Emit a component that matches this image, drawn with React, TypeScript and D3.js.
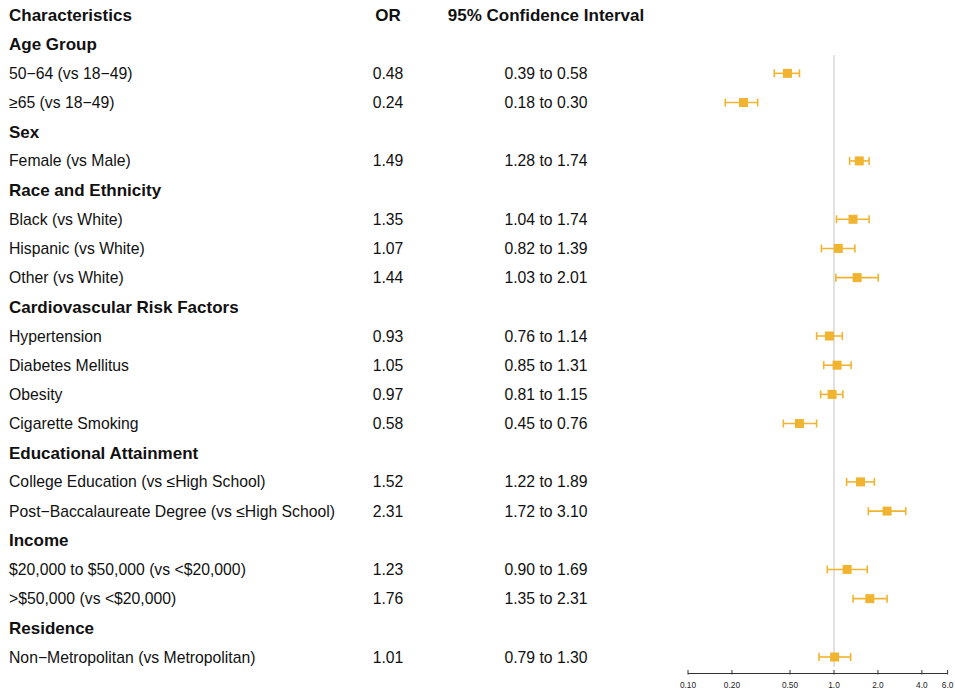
import React from "react";
import * as d3 from "d3";

const labels = [
  "Characteristics",
  "Age Group",
  "50−64 (vs 18−49)",
  "≥65 (vs 18−49)",
  "Sex",
  "Female (vs Male)",
  "Race and Ethnicity",
  "Black (vs White)",
  "Hispanic (vs White)",
  "Other (vs White)",
  "Cardiovascular Risk Factors",
  "Hypertension",
  "Diabetes Mellitus",
  "Obesity",
  "Cigarette Smoking",
  "Educational Attainment",
  "College Education (vs ≤High School)",
  "Post−Baccalaureate Degree (vs ≤High School)",
  "Income",
  "$20,000 to $50,000 (vs <$20,000)",
  ">$50,000 (vs <$20,000)",
  "Residence",
  "Non−Metropolitan (vs Metropolitan)",
];
const isHeader = [1, 1, 0, 0, 1, 0, 1, 0, 0, 0, 1, 0, 0, 0, 0, 1, 0, 0, 1, 0, 0, 1, 0];
const orValues: (number | null)[] = [null, null, 0.48, 0.24, null, 1.49, null, 1.35, 1.07, 1.44, null, 0.93, 1.05, 0.97, 0.58, null, 1.52, 2.31, null, 1.23, 1.76, null, 1.01];
const ciLow: (number | null)[] = [null, null, 0.39, 0.18, null, 1.28, null, 1.04, 0.82, 1.03, null, 0.76, 0.85, 0.81, 0.45, null, 1.22, 1.72, null, 0.9, 1.35, null, 0.79];
const ciHigh: (number | null)[] = [null, null, 0.58, 0.3, null, 1.74, null, 1.74, 1.39, 2.01, null, 1.14, 1.31, 1.15, 0.76, null, 1.89, 3.1, null, 1.69, 2.31, null, 1.3];
const orHeader = "OR";
const ciHeader = "95% Confidence Interval";
const tickValues = [0.1, 0.2, 0.5, 1.0, 2.0, 4.0, 6.0];
const tickLabels = ["0.10", "0.20", "0.50", "1.0", "2.0", "4.0", "6.0"];

const W = 955;
const H = 694;
const font = "'Liberation Sans', Arial, Helvetica, sans-serif";
const gold = "#F0B430";
const headSize = 17;
const bodySize = 15.75;

export default function App() {
  const x = d3.scaleLog().domain([0.1, 6]).range([688, 947.6]);
  const y = d3.scaleLinear().domain([0, 22]).range([15, 657]);
  const axisY = 673.5;

  return (
    <svg width={W} height={H} style={{ position: "absolute", left: 0, top: 0, background: "#fff" }}>
      <line x1={x(1)} x2={x(1)} y1={55} y2={667} stroke="#cfcfcf" strokeWidth={1.2} />
      {labels.map((lab, i) => (
        <text
          key={"l" + i}
          x={9}
          y={y(i)}
          dy="0.35em"
          fontFamily={font}
          fontSize={isHeader[i] ? headSize : bodySize}
          fontWeight={isHeader[i] ? "bold" : "normal"}
          fill="#111"
        >
          {lab}
        </text>
      ))}
      <text x={388} y={y(0)} dy="0.35em" textAnchor="middle" fontFamily={font} fontSize={headSize} fontWeight="bold" fill="#111">
        {orHeader}
      </text>
      <text x={546} y={y(0)} dy="0.35em" textAnchor="middle" fontFamily={font} fontSize={headSize} fontWeight="bold" fill="#111">
        {ciHeader}
      </text>
      {orValues.map((v, i) =>
        v == null ? null : (
          <g key={"v" + i}>
            <text x={388} y={y(i)} dy="0.35em" textAnchor="middle" fontFamily={font} fontSize={bodySize} fill="#111">
              {v.toFixed(2)}
            </text>
            <text x={546} y={y(i)} dy="0.35em" textAnchor="middle" fontFamily={font} fontSize={bodySize} fill="#111">
              {`${(ciLow[i] as number).toFixed(2)} to ${(ciHigh[i] as number).toFixed(2)}`}
            </text>
            <line x1={x(ciLow[i] as number)} x2={x(ciHigh[i] as number)} y1={y(i)} y2={y(i)} stroke={gold} strokeWidth={1.6} />
            <line x1={x(ciLow[i] as number)} x2={x(ciLow[i] as number)} y1={y(i) - 4} y2={y(i) + 4} stroke={gold} strokeWidth={1.6} />
            <line x1={x(ciHigh[i] as number)} x2={x(ciHigh[i] as number)} y1={y(i) - 4} y2={y(i) + 4} stroke={gold} strokeWidth={1.6} />
            <rect x={x(v) - 4.5} y={y(i) - 4.5} width={9} height={9} fill={gold} />
          </g>
        )
      )}
      <line x1={x(0.1)} x2={x(6)} y1={axisY} y2={axisY} stroke="#333" strokeWidth={1} />
      {tickValues.map((t, i) => (
        <g key={"t" + i}>
          <line x1={x(t)} x2={x(t)} y1={axisY - 3.5} y2={axisY + 1} stroke="#333" strokeWidth={1} />
          <text x={x(t)} y={685.5} dy="0.35em" textAnchor="middle" fontFamily={font} fontSize={8.3} fill="#222">
            {tickLabels[i]}
          </text>
        </g>
      ))}
    </svg>
  );
}
